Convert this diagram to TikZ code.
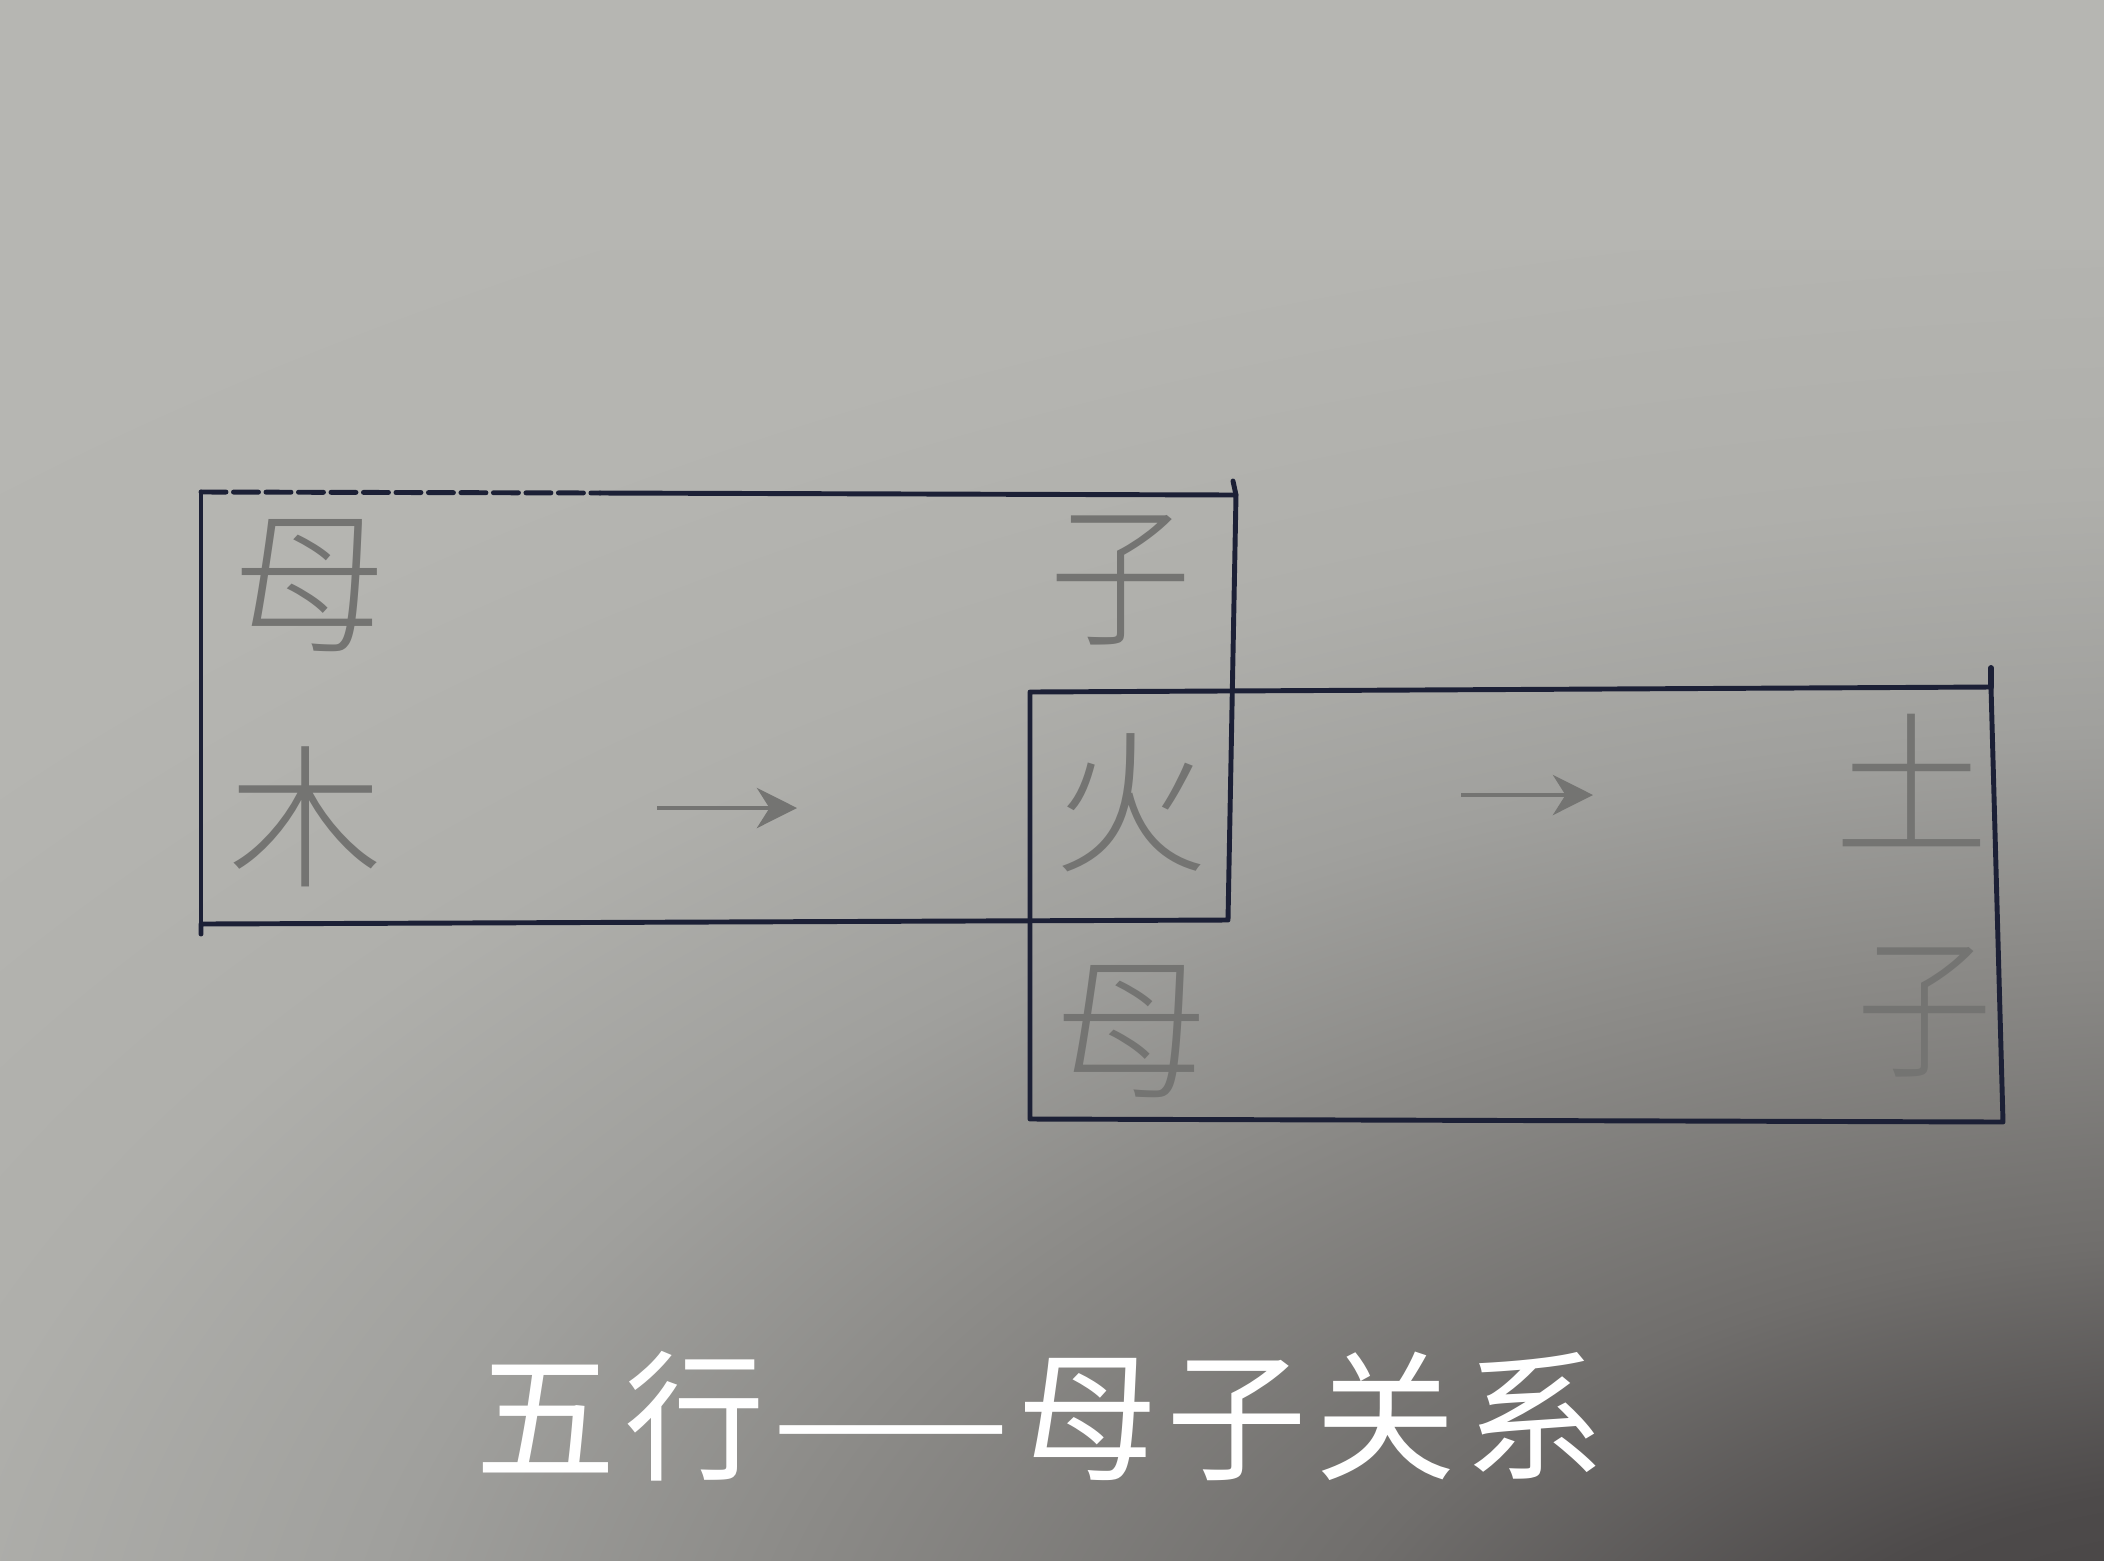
\documentclass[tikz,border=0pt]{standalone}
\usepackage{fontspec}
\newfontfamily\cjk{Noto Sans CJK SC}
\newfontfamily\cjkl{Noto Sans CJK SC Light}
\usetikzlibrary{arrows.meta}
\definecolor{ink}{HTML}{1C2036}
\definecolor{pencil}{HTML}{747472}
\definecolor{pz}{HTML}{434040}
\definecolor{pa}{HTML}{4D4A4A}
\definecolor{pb}{HTML}{706E6C}
\definecolor{pc}{HTML}{8C8B88}
\definecolor{pe}{HTML}{A0A09D}
\definecolor{pf}{HTML}{AFAFAB}
\definecolor{pg}{HTML}{B5B5B1}
\definecolor{ph}{HTML}{B6B6B2}
\pgfdeclareradialshading{paperbg}{\pgfpoint{0bp}{0bp}}{%
  color(0bp)=(pz); color(4.4bp)=(pa); color(8.5bp)=(pb); color(13.5bp)=(pc);
  color(17bp)=(pe); color(21bp)=(pf); color(26bp)=(pg);
  color(32bp)=(ph); color(50bp)=(ph)}
\begin{document}
\begin{tikzpicture}[x=0.02cm,y=-0.02cm,
  edge/.style={draw=ink, line width=2.8pt, line join=round, line cap=round},
  hand/.style={text=pencil, font=\cjkl\fontsize{88}{88}\selectfont, inner sep=0pt},
  penarrow/.style={draw=pencil, line width=2.8pt, -{Stealth[length=0.8cm,width=0.8cm,inset=0.25cm]}},
  titletext/.style={text=white, font=\cjk\fontsize{80}{80}\selectfont, inner sep=0pt}]
% background (photographed paper, darker toward the lower right)
\useasboundingbox (0,0) rectangle (2104,1560);
\begin{scope}
\clip (0,0) rectangle (2104,1560);
\fill[ph] (0,0) rectangle (2104,1560);
\shade[shading=paperbg] (-550,250) rectangle (5050,3250);
\end{scope}
% rectangle corners
\coordinate (r1tl) at (201,492);
\coordinate (r1tm) at (600,493);
\coordinate (r1tr) at (1236,495);
\coordinate (r1tk) at (1233,481);
\coordinate (r1br) at (1228,920);
\coordinate (r1bl) at (201,924);
\coordinate (r1bx) at (201,934);
\coordinate (r2tl) at (1030,692);
\coordinate (r2tr) at (1991,687);
\coordinate (r2tk) at (1991,668);
\coordinate (r2br) at (2003,1122);
\coordinate (r2bl) at (1030,1119);
% rectangle 1
\draw[edge, dash pattern=on 0.5cm off 0.15cm] (r1tl) -- (r1tm);
\draw[edge] (r1tm) -- (r1tr) -- (r1br) -- (r1bl) -- (r1bx);
\draw[edge] (r1tl) -- (r1bl);
\draw[edge] (r1tk) -- (r1tr);
% rectangle 2
\draw[edge] (r2tl) -- (r2tr) -- (r2br) -- (r2bl) -- cycle;
\draw[edge, line width=3.4pt] (r2tk) -- (r2tr);
% handwritten characters
\node[hand] (mu1) at (310,586) {母};
\node[hand, xscale=0.92] (zi1) at (1121,580) {子};
\node[hand] (mu) at (306,817) {木};
\node[hand] (huo) at (1131,803) {火};
\node[hand] (tu) at (1912,780) {土};
\node[hand] (mu2) at (1132,1032) {母};
\node[hand, xscale=0.88] (zi2) at (1925,1012) {子};
% arrows
\coordinate (a1s) at (657,808);
\coordinate (a1e) at (797,808);
\coordinate (a2s) at (1461,795);
\coordinate (a2e) at (1593,795);
\draw[penarrow] (a1s) -- (a1e);
\draw[penarrow] (a2s) -- (a2e);
% title
\node[titletext] (ttl) at (1040,1416) {\addfontfeature{LetterSpace=6}五行——母子关系};
\end{tikzpicture}
\end{document}
